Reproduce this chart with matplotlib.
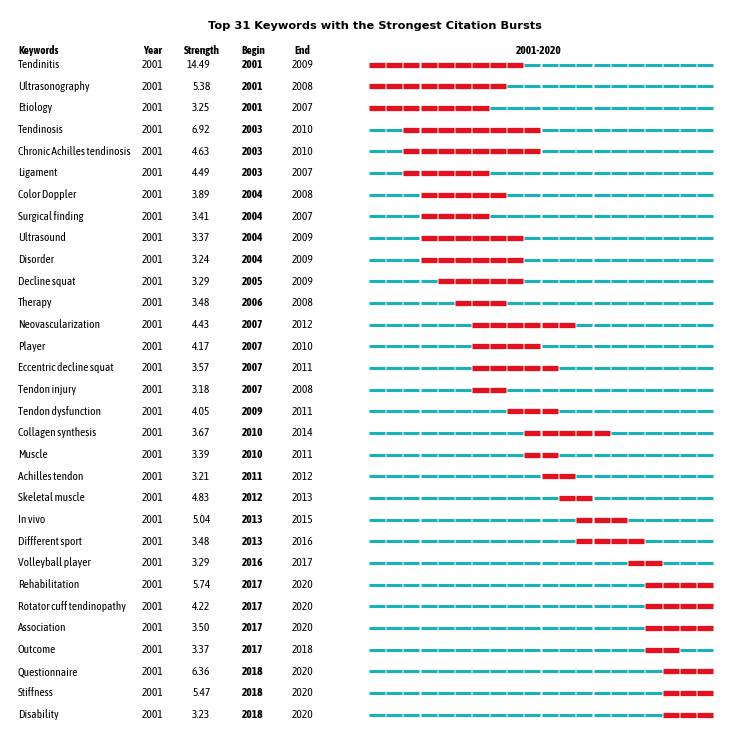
import matplotlib
matplotlib.use('Agg')
import matplotlib.pyplot as plt

plt.rcParams['font.family'] = ['Asap Condensed', 'DejaVu Sans']
plt.rcParams['font.stretch'] = 'condensed'

keywords = [
    'Tendinitis', 'Ultrasonography', 'Etiology', 'Tendinosis',
    'Chronic Achilles tendinosis', 'Ligament', 'Color Doppler',
    'Surgical finding', 'Ultrasound', 'Disorder', 'Decline squat',
    'Therapy', 'Neovascularization', 'Player', 'Eccentric decline squat',
    'Tendon injury', 'Tendon dysfunction', 'Collagen synthesis', 'Muscle',
    'Achilles tendon', 'Skeletal muscle', 'In vivo', 'Diffferent sport',
    'Volleyball player', 'Rehabilitation', 'Rotator cuff tendinopathy',
    'Association', 'Outcome', 'Questionnaire', 'Stiffness', 'Disability',
]
strength = [
    14.49, 5.38, 3.25, 6.92, 4.63, 4.49, 3.89, 3.41, 3.37, 3.24, 3.29,
    3.48, 4.43, 4.17, 3.57, 3.18, 4.05, 3.67, 3.39, 3.21, 4.83, 5.04,
    3.48, 3.29, 5.74, 4.22, 3.50, 3.37, 6.36, 5.47, 3.23,
]
begin = [
    2001, 2001, 2001, 2003, 2003, 2003, 2004, 2004, 2004, 2004, 2005,
    2006, 2007, 2007, 2007, 2007, 2009, 2010, 2010, 2011, 2012, 2013,
    2013, 2016, 2017, 2017, 2017, 2017, 2018, 2018, 2018,
]
end = [
    2009, 2008, 2007, 2010, 2010, 2007, 2008, 2007, 2009, 2009, 2009,
    2008, 2012, 2010, 2011, 2008, 2011, 2014, 2011, 2012, 2013, 2015,
    2016, 2017, 2020, 2020, 2020, 2018, 2020, 2020, 2020,
]
year = 2001
first_year, last_year = 2001, 2020

RED = '#e3101e'
CYAN = '#19b2ba'

fig = plt.figure(figsize=(7.44, 7.44), dpi=100)
ax = fig.add_axes([0, 0, 1, 1])
ax.set_xlim(0, 744)
ax.set_ylim(744, 0)
ax.axis('off')

# layout in pixels
row0, row_h = 64.5, 21.67
bar_x0, bar_x1 = 368, 714
n_years = last_year - first_year + 1
cell = (bar_x1 - bar_x0) / n_years
fs = 8.2

ax.text(375, 26, 'Top 31 Keywords with the Strongest Citation Bursts',
        ha='center', va='center', fontsize=8.2, fontweight='bold',
        family=['DejaVu Sans'], fontstretch='normal')
hy = 50
ax.text(18, hy, 'Keywords', ha='left', va='center', fontsize=fs, fontweight='bold')
ax.text(152.5, hy, 'Year', ha='center', va='center', fontsize=fs, fontweight='bold')
ax.text(202, hy, 'Strength', ha='center', va='center', fontsize=fs, fontweight='bold')
ax.text(253, hy, 'Begin', ha='center', va='center', fontsize=fs, fontweight='bold')
ax.text(302.5, hy, 'End', ha='center', va='center', fontsize=fs, fontweight='bold')
ax.text(539, hy + 1, '%d-%d' % (first_year, last_year),
        ha='center', va='center', fontsize=fs, fontweight='bold')

for i, kw in enumerate(keywords):
    y = row0 + i * row_h
    ax.text(18, y, kw, ha='left', va='center', fontsize=fs)
    ax.text(152.5, y, str(year), ha='center', va='center', fontsize=fs)
    ax.text(210.5, y, '%.2f' % strength[i], ha='right', va='center', fontsize=fs)
    ax.text(252.5, y, str(begin[i]), ha='center', va='center', fontsize=fs, fontweight='bold')
    ax.text(302.5, y, str(end[i]), ha='center', va='center', fontsize=fs)
    for k in range(n_years):
        yr = first_year + k
        xa = bar_x0 + k * cell + 0.6
        xb = bar_x0 + (k + 1) * cell - 0.6
        if begin[i] <= yr <= end[i]:
            ax.plot([xa, xb], [y, y], color=RED, lw=3.8, solid_capstyle='butt')
        else:
            ax.plot([xa, xb], [y, y], color=CYAN, lw=2.2, solid_capstyle='butt')

fig.savefig('out.png', dpi=100)
